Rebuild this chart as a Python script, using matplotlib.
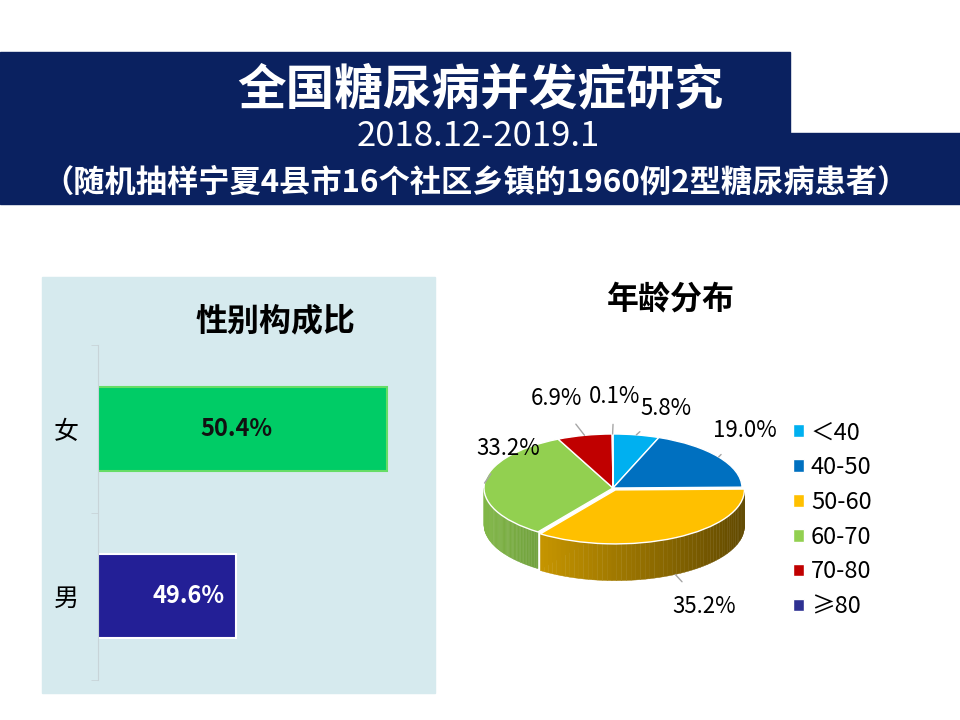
import matplotlib.pyplot as plt
import numpy as np
from matplotlib.patches import Rectangle, Polygon

plt.rcParams['font.family'] = ['Noto Sans CJK SC', 'DejaVu Sans']

# --- data ---
title = '全国糖尿病并发症研究'
period = '2018.12-2019.1'
subtitle = '（随机抽样宁夏4县市16个社区乡镇的1960例2型糖尿病患者）'

sex_labels = ['男', '女']
sex_values = [49.6, 50.4]
sex_title = '性别构成比'

age_labels = ['＜40', '40-50', '50-60', '60-70', '70-80', '≥80']
age_values = [5.8, 19.0, 35.2, 33.2, 6.9, 0.1]
age_title = '年龄分布'

age_colors = ['#00b0f0', '#0070c0', '#ffc000', '#92d050', '#c00000', '#2e3192']
explode = [0, 0, 0.04, 0, 0, 0]

W, H = 960, 720
fig = plt.figure(figsize=(9.6, 7.2), dpi=100)

def fx(px):
    return px / W

def fy(py):
    return 1 - py / H

navy = '#0a2160'
# banner
fig.patches.append(Rectangle((0, fy(133)), fx(790), fy(52) - fy(133),
                             transform=fig.transFigure, color=navy, zorder=-1))
fig.patches.append(Rectangle((0, fy(204)), 1, fy(133) - fy(204),
                             transform=fig.transFigure, color=navy, zorder=-1))
fig.text(fx(480), fy(90), title, color='white', fontsize=35, fontweight='bold',
         ha='center', va='center')
fig.text(fx(478), fy(137), period, color='white', fontsize=25, fontweight='medium',
         ha='center', va='center')
fig.text(fx(475), fy(183), subtitle, color='white', fontsize=22.5, fontweight='bold',
         ha='center', va='center')

# left panel
fig.patches.append(Rectangle((fx(42), fy(693)), fx(435) - fx(42), fy(277) - fy(693),
                             transform=fig.transFigure, color='#d6eaee', zorder=-1))

# --- bar chart ---
ax = fig.add_axes([fx(98), fy(680), fx(425) - fx(98), fy(345) - fy(680)])
ax.patch.set_alpha(0)
ypos = np.arange(len(sex_values))
bars = ax.barh(ypos, sex_values, height=0.5, left=0,
               color=['#231f96', '#00cc66'], edgecolor=['white', '#66dd66'], linewidth=1.5)
ax.set_xlim(48.87, 50.6)
ax.set_ylim(-0.5, 1.5)
ax.set_yticks(ypos)
ax.set_yticklabels(sex_labels, fontsize=18, fontweight='medium')
ax.tick_params(axis='y', which='major', length=0, pad=14)
ax.set_yticks([-0.5, 0.5, 1.5], minor=True)
ax.tick_params(axis='y', which='minor', length=5, color='#c8d4d8')
ax.set_xticks([])
for s in ['top', 'right', 'bottom']:
    ax.spines[s].set_visible(False)
ax.spines['left'].set_color('#c8d4d8')
ax.text(49.54, 0, f'{sex_values[0]:.1f}%', color='white', fontsize=17,
        fontweight='bold', ha='right', va='center')
ax.text(49.60, 1, f'{sex_values[1]:.1f}%', color='#111111', fontsize=17,
        fontweight='bold', ha='center', va='center')
fig.text(fx(275), fy(321), sex_title, fontsize=23, fontweight='bold',
         ha='center', va='center')

# --- 3D-ish pie ---
cx, cy = 613, 488
rx, ry = 129, 54
x0, x1 = -1.5, 1.6
y0, y1 = -2.45, 1.95
pax = fig.add_axes([fx(cx + x0 * rx), fy(cy - y0 * ry),
                    (x1 - x0) * rx / W, (y1 - y0) * ry / H])
wedges, _ = pax.pie(age_values, colors=age_colors, startangle=90, counterclock=False,
                    explode=explode, radius=1,
                    wedgeprops=dict(edgecolor='white', linewidth=1))
pax.set_aspect('auto')
pax.set_xlim(x0, x1)
pax.set_ylim(y0, y1)
pax.axis('off')

depth = 0.68

def shade(c, f):
    r, g, b = plt.matplotlib.colors.to_rgb(c)
    return (r * f, g * f, b * f)

for w, c in zip(wedges, age_colors):
    w.set_zorder(3)
    ox, oy = w.center
    t1, t2 = w.theta1, w.theta2
    # visible side: the front half of the rim (sin < 0)
    for lo, hi in [(-180, 0), (180, 360)]:
        a1, a2 = max(t1, lo), min(t2, hi)
        if a2 <= a1:
            continue
        angs = np.linspace(a1, a2, 60)
        for i in range(len(angs) - 1):
            aa = np.radians(angs[i:i + 2])
            xs = ox + np.cos(aa)
            ys = oy + np.sin(aa)
            # darker towards the right side
            f = 0.88 - 0.5 * (np.cos(aa.mean()) + 1) / 2
            pts = list(zip(xs, ys)) + list(zip(xs[::-1], ys[::-1] - depth))
            pax.add_patch(Polygon(pts, closed=True, facecolor=shade(c, f),
                                  edgecolor=shade(c, f), linewidth=0.3, zorder=2))
    # cut face at the left edge of the exploded slice
    if ox != 0 or oy != 0:
        a = np.radians(t1)
        pts = [(ox, oy), (ox + np.cos(a), oy + np.sin(a)),
               (ox + np.cos(a), oy + np.sin(a) - depth), (ox, oy - depth)]
        pax.add_patch(Polygon(pts, closed=True, facecolor=shade(c, 0.8),
                              edgecolor='white', linewidth=1, zorder=1))

# labels with leader lines
label_pos = [(0.41, 1.48), (1.02, 1.07), (0.71, -2.19), (-0.81, 0.74),
             (-0.44, 1.65), (0.01, 1.70)]
for w, v, (tx, ty) in zip(wedges, age_values, label_pos):
    mid = np.radians((w.theta1 + w.theta2) / 2)
    px_, py_ = w.center[0] + np.cos(mid), w.center[1] + np.sin(mid)
    if np.sin(mid) < 0:
        py_ -= depth
    pax.annotate(f'{v:.1f}%', xy=(px_, py_), xytext=(tx, ty),
                 fontsize=16, ha='center', va='center', zorder=5,
                 arrowprops=dict(arrowstyle='-', color='#a6a6a6', lw=1,
                                 shrinkA=10, shrinkB=0))

fig.text(fx(671), fy(300), age_title, fontsize=23, fontweight='bold',
         ha='center', va='center')

leg = fig.legend(wedges, age_labels, loc='upper left',
                 bbox_to_anchor=(fx(772), fy(400)), frameon=False,
                 fontsize=17, handlelength=0.45, handleheight=0.45,
                 handletextpad=0.3, labelspacing=0.5)

fig.savefig('out.png', dpi=100)
